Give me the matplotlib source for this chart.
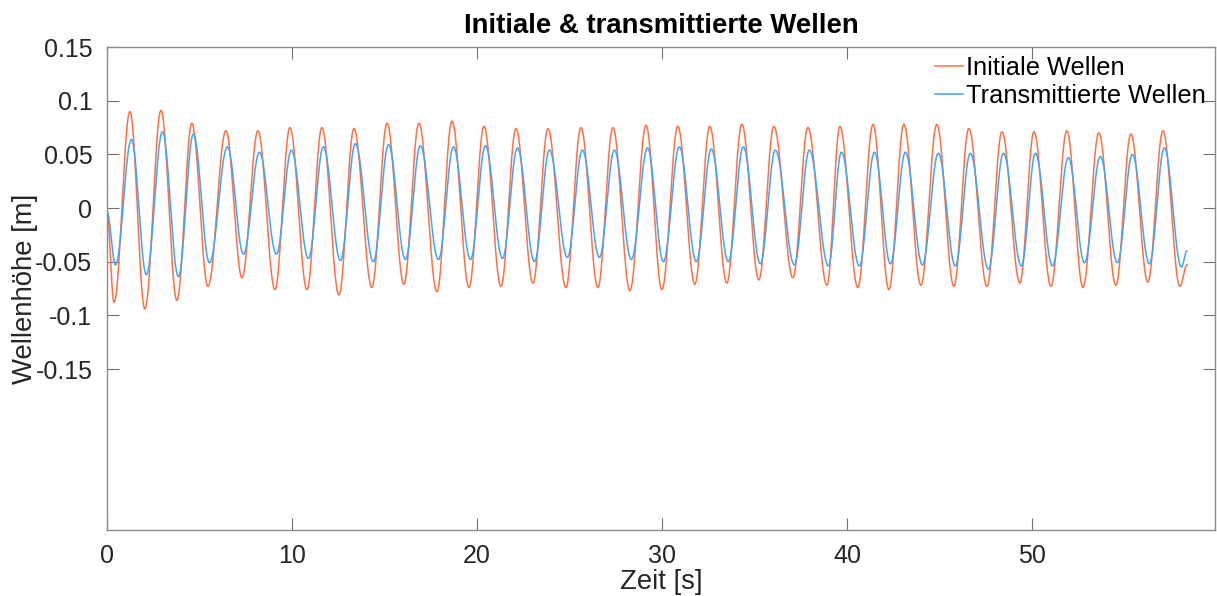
import numpy as np
import matplotlib.pyplot as plt

plt.rcParams['font.family'] = ['Liberation Sans', 'DejaVu Sans']

# Wave crests and troughs picked from the gauge records (time in s, height in m)
crest_t = [1.24, 2.92, 4.59, 6.43, 8.16, 9.89, 11.62, 13.35, 15.14, 16.86, 18.65,
           20.38, 22.11, 23.84, 25.62, 27.35, 29.14, 30.86, 32.59, 34.32, 36.05,
           37.89, 39.62, 41.41, 43.08, 44.86, 46.59, 48.38, 50.11, 51.89, 53.62,
           55.35, 57.08]
trough_t = [0.38, 2.05, 3.78, 5.46, 7.30, 9.08, 10.81, 12.54, 14.32, 16.05, 17.84,
            19.57, 21.30, 23.03, 24.81, 26.54, 28.27, 30.00, 31.78, 33.51, 35.24,
            37.08, 38.92, 40.59, 42.27, 44.00, 45.78, 47.57, 49.35, 51.03, 52.76,
            54.54, 56.27, 58.00]

init_crest = [0.090, 0.091, 0.079, 0.072, 0.072, 0.075, 0.075, 0.074, 0.079, 0.079,
              0.081, 0.076, 0.074, 0.074, 0.075, 0.075, 0.077, 0.076, 0.076, 0.078,
              0.076, 0.075, 0.076, 0.078, 0.078, 0.078, 0.074, 0.071, 0.071, 0.072,
              0.070, 0.069, 0.072]
init_trough = [-0.088, -0.094, -0.086, -0.073, -0.065, -0.076, -0.076, -0.081, -0.074,
               -0.071, -0.078, -0.074, -0.073, -0.070, -0.074, -0.074, -0.077, -0.076,
               -0.071, -0.070, -0.067, -0.065, -0.072, -0.074, -0.076, -0.072, -0.073,
               -0.073, -0.070, -0.073, -0.074, -0.072, -0.069, -0.073]
trans_crest = [0.064, 0.071, 0.069, 0.057, 0.052, 0.054, 0.057, 0.060, 0.059, 0.058,
               0.057, 0.058, 0.056, 0.054, 0.054, 0.054, 0.056, 0.057, 0.055, 0.057,
               0.054, 0.054, 0.052, 0.052, 0.052, 0.051, 0.051, 0.051, 0.051, 0.047,
               0.048, 0.050, 0.056]
trans_trough = [-0.053, -0.062, -0.064, -0.051, -0.043, -0.043, -0.047, -0.049, -0.050,
                -0.048, -0.048, -0.048, -0.047, -0.050, -0.046, -0.046, -0.048, -0.050,
                -0.050, -0.050, -0.052, -0.053, -0.054, -0.054, -0.052, -0.053, -0.054,
                -0.057, -0.054, -0.054, -0.051, -0.051, -0.052, -0.055]

t_end = 58.38
init_ends = (-0.005, -0.053)
trans_ends = (-0.003, -0.040)
trans_lag = 0.08


def build_wave(crests, troughs, ends, lag=0.0):
    # chain the extrema in time order and join them with half-cosine segments
    ext_t = [0.0] + sorted(crest_t + trough_t) + [t_end]
    ext_h = dict(zip(crest_t, crests))
    ext_h.update(zip(trough_t, troughs))
    ext_v = [ends[0]] + [ext_h[t] for t in ext_t[1:-1]] + [ends[1]]
    ext_t = [0.0] + [t + lag for t in ext_t[1:-1]] + [t_end]
    tt, hh = [], []
    for (t0, t1), (h0, h1) in zip(zip(ext_t[:-1], ext_t[1:]), zip(ext_v[:-1], ext_v[1:])):
        s = np.linspace(0, 1, 40, endpoint=False)
        tt.append(t0 + s * (t1 - t0))
        hh.append(h0 + (h1 - h0) * (1 - np.cos(np.pi * s)) / 2)
    tt.append([t_end])
    hh.append([ext_v[-1]])
    return np.concatenate(tt), np.concatenate(hh)


t_init, h_init = build_wave(init_crest, init_trough, init_ends)
t_trans, h_trans = build_wave(trans_crest, trans_trough, trans_ends, trans_lag)

fig = plt.figure(figsize=(12.17, 5.96), dpi=100)
ax = fig.add_axes([0.0879, 0.1107, 0.9105, 0.8104])

ax.plot(t_init, h_init, color='#FF7043', lw=1.1, label='Initiale Wellen')
ax.plot(t_trans, h_trans, color='#42A5F5', lw=1.1, label='Transmittierte Wellen')

ax.set_xlim(0, 59.9)
ax.set_ylim(-0.3, 0.15)
ax.set_xticks([0, 10, 20, 30, 40, 50])
ax.set_yticks([-0.15, -0.1, -0.05, 0, 0.05, 0.1, 0.15])
ax.set_yticklabels(['-0.15', '-0.1', '-0.05', '0', '0.05', '0.1', '0.15'])

for side in ax.spines.values():
    side.set_color('#8c8c8c')
    side.set_linewidth(1.0)
ax.tick_params(direction='in', length=8.5, width=0.8, color='#707070',
               labelsize=18, labelcolor='#262626', top=True, right=True)
ax.tick_params(axis='x', pad=10)
ax.tick_params(axis='y', pad=10.5)

ax.set_xlabel('Zeit [s]', fontsize=19.8, color='#262626', labelpad=1)
ax.set_ylabel('Wellenhöhe [m]', fontsize=19.8, color='#262626', labelpad=-2)
ax.set_title('Initiale & transmittierte Wellen', fontsize=19.8, fontweight='bold', pad=10)

ax.legend(loc='upper right', frameon=False, fontsize=18.3, handlelength=1.1,
          handletextpad=0.15, labelspacing=0.15, borderaxespad=0.0,
          borderpad=0.35)

fig.savefig('out.png', dpi=100)
